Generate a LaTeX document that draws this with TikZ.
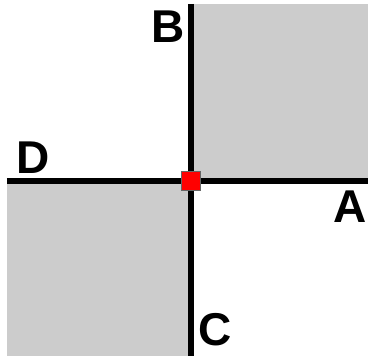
\documentclass[tikz,border=0pt]{standalone}
\usepackage{fontspec}
\setmainfont{Liberation Sans}
\usepackage{tikz}
\usetikzlibrary{positioning}

\begin{document}
\begin{tikzpicture}[
  x=1pt, y=-1pt,
  panel/.style ={fill=black!20},
  axis/.style  ={draw=black, line width=6.6pt},
  pin/.style   ={draw=black!60, line width=0.6pt, fill=red,
                 minimum size=19pt, inner sep=0pt},
  lbl/.style   ={font=\fontsize{46}{46}\selectfont\bfseries, inner sep=0pt}]

\useasboundingbox (0,0) rectangle (368,356);

%% Shaded quadrants
\fill[panel] (191,4) rectangle (368,181);
\fill[panel] (7,181) rectangle (191,356);

%% Axis end points
\coordinate (west)  at (7,181);
\coordinate (east)  at (368,181);
\coordinate (north) at (191,4);
\coordinate (south) at (191,356);

%% Axes
\draw[axis] (west)  -- (east);
\draw[axis] (north) -- (south);

%% Crossing point
\node[pin] (origin) at (191,181) {};

%% Labels
\node[lbl] (labB) at (168,27)  {B};
\node[lbl] (labD) at (33,158)  {D};
\node[lbl] (labA) at (350,207) {A};
\node[lbl] (labC) at (215,330) {C};
\end{tikzpicture}
\end{document}
